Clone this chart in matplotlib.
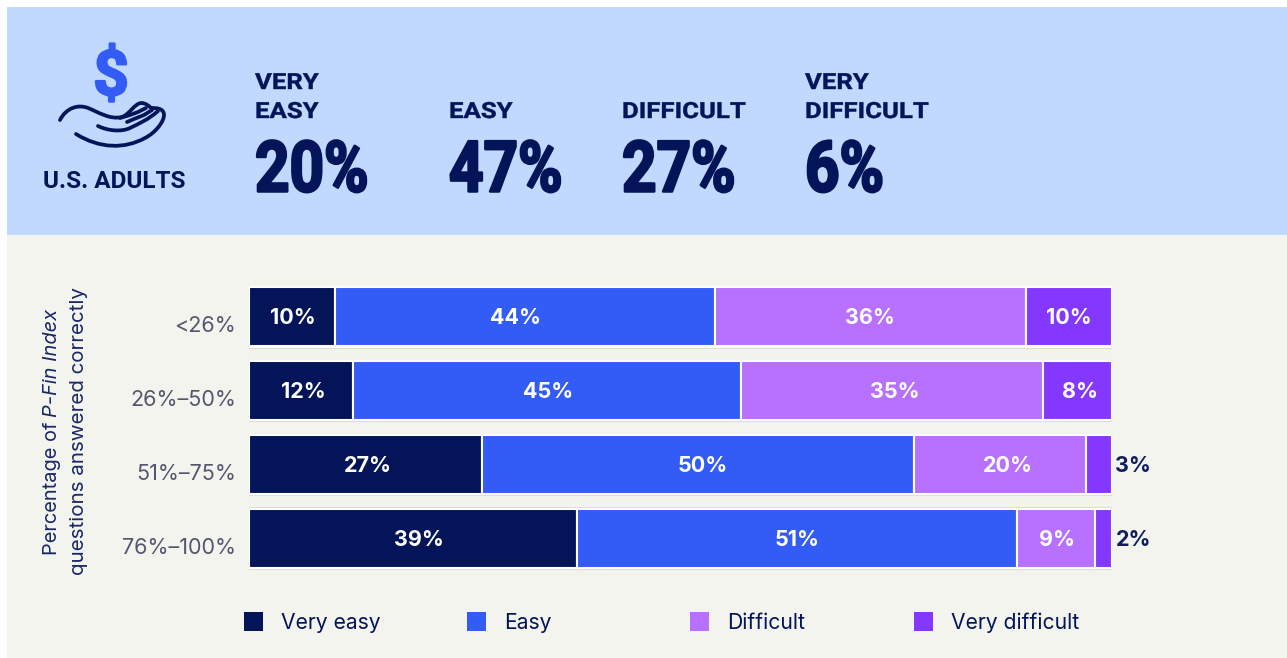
import matplotlib
matplotlib.use("Agg")
import matplotlib.pyplot as plt
import matplotlib.patheffects as pe
from matplotlib.patches import Rectangle, PathPatch
from matplotlib.path import Path
from matplotlib.transforms import Affine2D

# ---- data ----
groups = ["<26%", "26%–50%", "51%–75%", "76%–100%"]
series = ["Very easy", "Easy", "Difficult", "Very difficult"]
very_easy = [10, 12, 27, 38]
easy = [44, 45, 50, 51]
difficult = [36, 35, 20, 9]
very_difficult = [10, 8, 3, 2]
very_easy_labels = ["10%", "12%", "27%", "39%"]
easy_labels = ["44%", "45%", "50%", "51%"]
difficult_labels = ["36%", "35%", "20%", "9%"]
very_difficult_labels = ["10%", "8%", "3%", "2%"]
overall_heads = ["VERY\nEASY", "EASY", "DIFFICULT", "VERY\nDIFFICULT"]
overall_vals = ["20%", "47%", "27%", "6%"]

NAVY = "#031459"
BLUE = "#325CF5"
LILAC = "#B870FF"
PURPLE = "#8438FF"
colors = [NAVY, BLUE, LILAC, PURPLE]
HEAD_BG = "#C1D9FF"
BODY_BG = "#F3F4EE"
W, H = 1287, 658

# horizontal label nudges in pixels: rows by series
nudges = [[1, -10, 0, 0], [3, 1, 3, 3], [2, 5, 8, 0], [6, 0, 1, 0]]


class Squeeze(pe.AbstractPathEffect):
    """Scale a text horizontally about its left anchor, with an optional outline."""

    def __init__(self, x_px, sx, lw=0.0, color=NAVY):
        super().__init__()
        self.x_px, self.sx, self.lw, self.color = x_px, sx, lw, color

    def draw_path(self, renderer, gc, tpath, affine, rgbFace=None):
        a = affine + Affine2D().translate(-self.x_px, 0).scale(self.sx, 1).translate(self.x_px, 0)
        gc0 = renderer.new_gc()
        gc0.copy_properties(gc)
        if self.lw:
            gc0.set_linewidth(self.lw)
            gc0.set_foreground(self.color)
        renderer.draw_path(gc0, tpath, a, rgbFace)
        gc0.restore()


plt.rcParams["font.family"] = ["Inter", "DejaVu Sans"]
fig = plt.figure(figsize=(W / 100, H / 100), dpi=100, facecolor="white")

# background canvas in pixel coordinates
bg = fig.add_axes([0, 0, 1, 1])
bg.set_xlim(0, W)
bg.set_ylim(H, 0)
bg.axis("off")
bg.add_patch(Rectangle((7, 7), W - 7, 228, fc=HEAD_BG, ec="none"))
bg.add_patch(Rectangle((7, 235), W - 7, H - 235, fc=BODY_BG, ec="none"))

# icon: dollar sign and hand
bg.text(111, 78, "$", color=BLUE, fontsize=45, fontweight="bold", ha="center", va="center", family="Roboto",
        path_effects=[pe.withStroke(linewidth=1.6, foreground=BLUE)])
C4, L, M = Path.CURVE4, Path.LINETO, Path.MOVETO
hand_curves = [
    ([(60, 120), (66, 108), (78, 104), (88, 108), (98, 112), (110, 120), (122, 117),
      (130, 114), (134, 104), (141, 103), (146, 103), (149, 106), (151, 108),
      (156, 108), (164, 108), (164, 115), (164, 122), (155, 133), (145, 138),
      (125, 149), (100, 149), (76, 134)],
     [M] + [C4] * 21),
    ([(98, 126), (108, 131), (122, 132), (130, 128), (138, 124), (148, 120), (158, 111)],
     [M] + [C4] * 6),
    ([(120, 118), (130, 115), (138, 112), (146, 108)], [M, L, L, L]),
    ([(127, 122), (134, 119), (144, 115), (152, 110)], [M, L, L, L]),
]
for pts, codes in hand_curves:
    bg.add_patch(PathPatch(Path(pts, codes), fc="none", ec=NAVY, lw=2.7, capstyle="round", joinstyle="round"))
bg.text(114.5, 181.5, "U.S. ADULTS", color=NAVY, fontsize=17.5, fontweight="bold", ha="center", va="center", family="Roboto")

# headline numbers
head_x = [255, 449, 622, 805]
for x, head, val in zip(head_x, overall_heads, overall_vals):
    lines = head.split("\n")
    ys = [112] if len(lines) == 1 else [83, 112]
    for y, line in zip(ys, lines):
        bg.text(x, y, line, color=NAVY, fontsize=16, fontweight="bold", ha="left", va="center", family="Roboto",
                path_effects=[Squeeze(x, 1.16, 0.3)])
    bg.text(x, 191.5, val, color=NAVY, fontsize=51, fontweight="bold", ha="left", va="baseline", family="Roboto",
            path_effects=[Squeeze(x, 0.85, 1.8)])

# stacked bars
ax_left, ax_right, ax_top, ax_bottom = 249, 1112, 280, 575
ax = fig.add_axes([ax_left / W, 1 - ax_bottom / H, (ax_right - ax_left) / W, (ax_bottom - ax_top) / H])
ax.set_xlim(0, 100)
ax.set_ylim(3.5, -0.5)
ax.axis("off")
ax.patch.set_alpha(0)
stack = [very_easy, easy, difficult, very_difficult]
labels = [very_easy_labels, easy_labels, difficult_labels, very_difficult_labels]
px = 100 / (ax_right - ax_left)
for i in range(len(groups)):
    left = 0
    total = sum(s[i] for s in stack)
    ax.barh(i, total + 0.3, left=-0.15, height=0.835, color="white", edgecolor="#DCDCD9", linewidth=0.8, zorder=1)
    for j, s in enumerate(stack):
        v = s[i]
        ax.barh(i, v, left=left, height=0.8, color=colors[j], edgecolor="white", linewidth=1.5, zorder=2)
        if v >= 8:
            ax.text(left + v / 2 + nudges[i][j] * px, i + 0.02, labels[j][i], color="white", fontsize=15.5,
                    fontweight="bold", ha="center", va="center", zorder=3)
        else:
            ax.text(100.4, i + 0.02, labels[j][i], color="#101C5C", fontsize=15.5, fontweight="bold",
                    ha="left", va="center", zorder=3, clip_on=False)
        left += v
    bg.text(236, 326 + 74 * i, groups[i], color="#54566F", fontsize=15.5, ha="right", va="center")

# y axis title
AX_TEXT = "#1A2766"
bg.text(57, 555, "Percentage of", color=AX_TEXT, fontsize=14.4, rotation=90, rotation_mode="anchor",
        ha="left", va="baseline")
bg.text(57, 417, "P-Fin Index", color=AX_TEXT, fontsize=14.4, rotation=90, rotation_mode="anchor",
        ha="left", va="baseline", style="italic")
bg.text(84, 575, "questions answered correctly", color=AX_TEXT, fontsize=14.8, rotation=90,
        rotation_mode="anchor", ha="left", va="baseline")

# legend
legend_x = [244, 467, 690, 914]
for x, name, c in zip(legend_x, series, colors):
    bg.add_patch(Rectangle((x, 612), 18.5, 18.5, fc=c, ec="none"))
    bg.text(x + 37, 623, name, color=NAVY, fontsize=15.2, ha="left", va="center")

fig.savefig("out.png", dpi=100, facecolor="white")
